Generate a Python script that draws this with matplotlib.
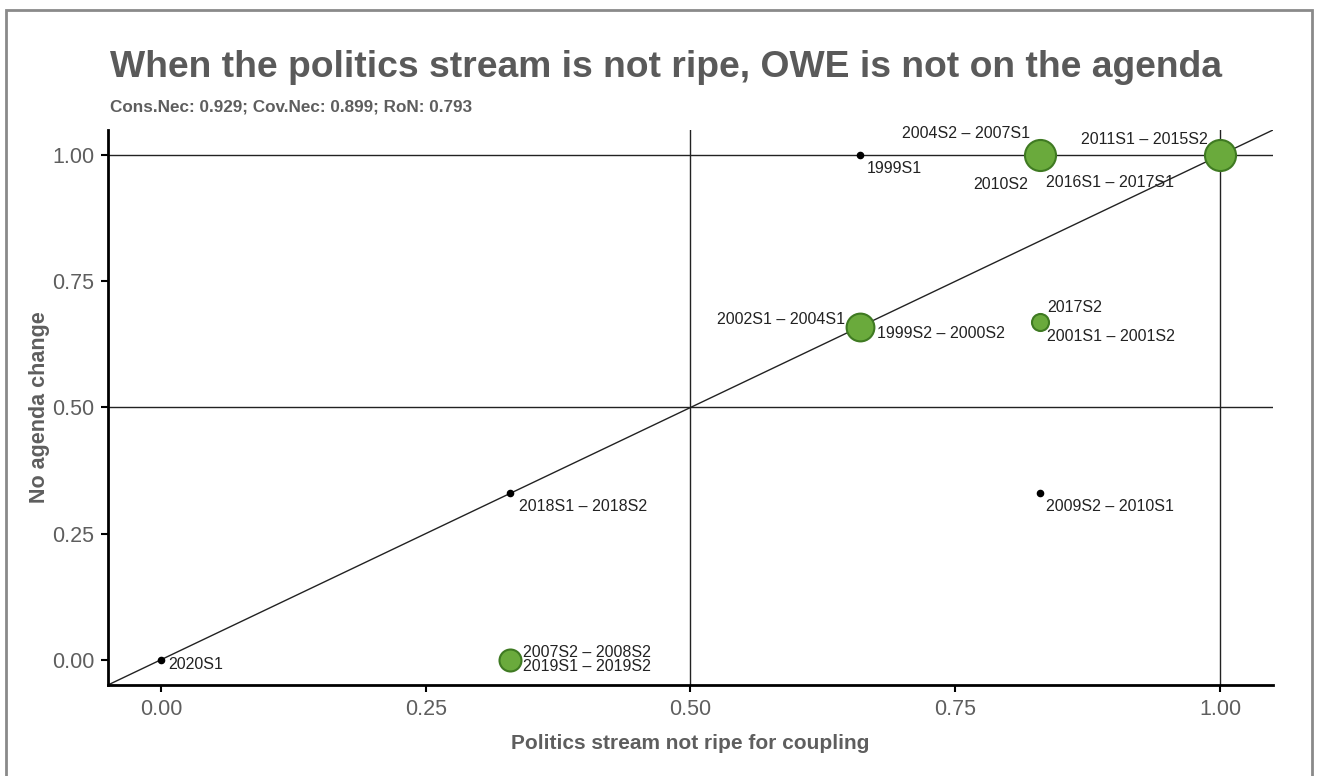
import matplotlib.pyplot as plt
from matplotlib.patches import Rectangle

plt.rcParams['font.family'] = ['Liberation Sans', 'DejaVu Sans']

# Calibrated set-membership scores per configuration
ripe_x = [0.0, 0.33, 0.33, 0.66, 0.66, 0.83, 0.83, 0.83, 1.0]
agenda_y = [0.0, 0.33, 0.0, 1.0, 0.66, 1.0, 0.67, 0.33, 1.0]
# number of semesters in each configuration
semesters = [1, 2, 5, 1, 8, 10, 3, 2, 10]
# True for cases that fit the necessity relation
consistent = [False, False, True, False, True, True, True, False, True]

case_labels = [
    ["2020S1"],
    ["2018S1 \u2013 2018S2"],
    ["2007S2 \u2013 2008S2\n2019S1 \u2013 2019S2"],
    ["1999S1"],
    ["2002S1 \u2013 2004S1", "1999S2 \u2013 2000S2"],
    ["2004S2 \u2013 2007S1", "2010S2", "2016S1 \u2013 2017S1"],
    ["2017S2", "2001S1 \u2013 2001S2"],
    ["2009S2 \u2013 2010S1"],
    ["2011S1 \u2013 2015S2"],
]

title = "When the politics stream is not ripe, OWE is not on the agenda"
subtitle = "Cons.Nec: 0.929; Cov.Nec: 0.899; RoN: 0.793"
x_ticks = [0.0, 0.25, 0.5, 0.75, 1.0]
y_ticks = [0.0, 0.25, 0.5, 0.75, 1.0]

# label offsets in pixels (dx, dy, ha, va) for each label above
label_layout = [
    [(7, -5, 'left', 'center')],
    [(9, -13, 'left', 'center')],
    [(13, 0, 'left', 'center')],
    [(7, -13, 'left', 'center')],
    [(-15, 7, 'right', 'center'), (17, -7, 'left', 'center')],
    [(-10, 22, 'right', 'center'), (-12, -29, 'right', 'center'), (6, -27, 'left', 'center')],
    [(7, 14, 'left', 'center'), (7, -15, 'left', 'center')],
    [(6, -13, 'left', 'center')],
    [(-12, 16, 'right', 'center')],
]

fig = plt.figure(figsize=(13.2, 7.76), dpi=100)
ax = fig.add_axes([0.0818, 0.1173, 0.8826, 0.7152])

ax.set_xlim(-0.05, 1.05)
ax.set_ylim(-0.05, 1.05)

# reference lines and diagonal
ref_kw = dict(color='#222222', linewidth=1.0, zorder=1)
ax.axhline(0.5, **ref_kw)
ax.axhline(1.0, **ref_kw)
ax.axvline(0.5, **ref_kw)
ax.axvline(1.0, **ref_kw)
ax.axline((0, 0), (1, 1), **ref_kw)

for x, y, n, ok, labels, layout in zip(ripe_x, agenda_y, semesters, consistent,
                                       case_labels, label_layout):
    if ok:
        ax.scatter(x, y, s=50 * n, color='#6aaa3c', edgecolor='#3f7a22',
                   linewidth=1.5, zorder=3)
    else:
        ax.scatter(x, y, s=20, color='black', zorder=3)
    for text, (dx, dy, ha, va) in zip(labels, layout):
        ax.annotate(text, (x, y), xytext=(dx, dy), textcoords='offset pixels',
                    ha=ha, va=va, fontsize=11.5, color='#222222',
                    linespacing=0.95, zorder=4)

for side in ['top', 'right']:
    ax.spines[side].set_visible(False)
for side in ['left', 'bottom']:
    ax.spines[side].set_linewidth(2)
    ax.spines[side].set_color('black')

ax.set_xticks(x_ticks)
ax.set_yticks(y_ticks)
ax.set_xticklabels([f"{t:.2f}" for t in x_ticks])
ax.set_yticklabels([f"{t:.2f}" for t in y_ticks])
ax.tick_params(direction='out', length=5, width=1.5, color='black',
               labelsize=15.5, labelcolor='#5e5e5e', pad=5)

ax.set_xlabel("Politics stream not ripe for coupling", fontsize=15,
              fontweight='bold', color='#5e5e5e', labelpad=10)
ax.set_ylabel("No agenda change", fontsize=15.5, fontweight='bold',
              color='#5e5e5e', labelpad=1)

fig.text(0.0833, 0.913, title, fontsize=26.8, fontweight='bold',
         color='#5a5a5a', ha='left', va='center')
fig.text(0.0833, 0.862, subtitle, fontsize=12.3, fontweight='bold',
         color='#5e5e5e', ha='left', va='center')

# outer frame
fig.patches.append(Rectangle((0.0045, -0.01), 0.9895, 0.997,
                             transform=fig.transFigure, fill=False,
                             edgecolor='#8a8a8a', linewidth=2))

fig.savefig('out.png', dpi=100)
